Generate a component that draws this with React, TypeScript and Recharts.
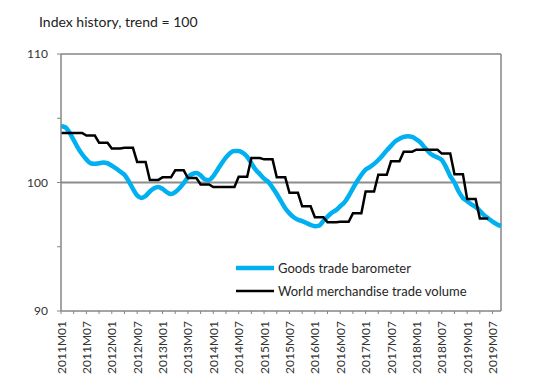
import { LineChart, Line, XAxis, YAxis, ReferenceLine, Legend } from "recharts";

const AXIS_GREY = "#868686";
const BLUE = "#00B0F0";

// monthly categories, 2011M01 .. 2019M09
const months: string[] = [];
for (let y = 2011; y <= 2019; y++) {
  for (let m = 1; m <= 12; m++) {
    if (y === 2019 && m > 9) break;
    months.push(`${y}M${String(m).padStart(2, "0")}`);
  }
}

const tickLabels = [
  "2011M01", "2011M07", "2012M01", "2012M07", "2013M01", "2013M07",
  "2014M01", "2014M07", "2015M01", "2015M07", "2016M01", "2016M07",
  "2017M01", "2017M07", "2018M01", "2018M07", "2019M01", "2019M07",
];

// Goods trade barometer, monthly
const barometer = [
  104.4, 104.3, 103.9, 103.3, 102.7, 102.2, 101.8, 101.5, 101.45, 101.5, 101.55, 101.5,
  101.3, 101.1, 100.85, 100.6, 100.1, 99.5, 99.0, 98.8, 98.95, 99.3, 99.55, 99.65,
  99.5, 99.25, 99.1, 99.25, 99.55, 99.95, 100.4, 100.65, 100.73, 100.55, 100.25, 100.2,
  100.5, 101.0, 101.5, 101.95, 102.3, 102.45, 102.45, 102.3, 102.0, 101.5, 101.0, 100.65,
  100.3, 100.05, 99.6, 99.1, 98.55, 98.0, 97.6, 97.3, 97.1, 97.0, 96.85, 96.7,
  96.6, 96.65, 97.0, 97.35, 97.65, 97.85, 98.15, 98.45, 98.95, 99.55, 100.1, 100.6,
  101.0, 101.2, 101.45, 101.75, 102.1, 102.5, 102.85, 103.2, 103.4, 103.55, 103.6, 103.55,
  103.35, 103.1, 102.7, 102.35, 102.1, 101.95, 101.75, 101.2, 100.5, 100.0, 99.3, 98.8,
  98.55, 98.3, 98.1, 97.8, 97.45, 97.2, 96.95, 96.75, 96.6,
];

// World merchandise trade volume, quarterly figures shown per month
const volume = [
  103.85, 103.85, 103.85, 103.85, 103.85, 103.85, 103.65, 103.65, 103.65, 103.1, 103.1, 103.1,
  102.65, 102.65, 102.65, 102.7, 102.7, 102.7, 101.6, 101.6, 101.6, 100.2, 100.2, 100.2,
  100.4, 100.4, 100.4, 100.95, 100.95, 100.95, 100.35, 100.35, 100.35, 99.85, 99.85, 99.85,
  99.65, 99.65, 99.65, 99.65, 99.65, 99.65, 100.45, 100.45, 100.45, 101.9, 101.9, 101.9,
  101.8, 101.8, 101.8, 100.4, 100.4, 100.4, 99.2, 99.2, 99.2, 98.15, 98.15, 98.15,
  97.3, 97.3, 97.3, 96.9, 96.9, 96.9, 96.95, 96.95, 96.95, 97.6, 97.6, 97.6,
  99.3, 99.3, 99.3, 100.6, 100.6, 100.6, 101.65, 101.65, 101.65, 102.4, 102.4, 102.4,
  102.55, 102.55, 102.55, 102.55, 102.55, 102.55, 102.25, 102.25, 102.25, 100.65, 100.65, 100.65,
  98.72, 98.72, 98.72, 97.2, 97.2, 97.2,
];

const data = months.map((month, i) => ({
  month,
  barometer: barometer[i],
  volume: i < volume.length ? volume[i] : null,
}));

const legendItems = [
  { label: "Goods trade barometer", color: BLUE, width: 4.5 },
  { label: "World merchandise trade volume", color: "#000000", width: 2.5 },
];

function MonthTick({ x, y, payload }: { x: number; y: number; payload: { value: string } }) {
  if (!tickLabels.includes(payload.value)) return null;
  return (
    <text
      transform={`translate(${x},${y + 5}) rotate(-90)`}
      textAnchor="end"
      dominantBaseline="central"
      fontSize={12}
      fill="#333333"
    >
      {payload.value}
    </text>
  );
}

function LegendBox() {
  return (
    <div style={{ display: "flex", flexDirection: "column", gap: 5 }}>
      {legendItems.map((item) => (
        <div key={item.label} style={{ display: "flex", alignItems: "center", height: 18 }}>
          <svg width={42} height={8}>
            <line x1={0} y1={4} x2={38} y2={4} stroke={item.color} strokeWidth={item.width} />
          </svg>
          <span style={{ fontSize: 13, color: "#262626" }}>{item.label}</span>
        </div>
      ))}
    </div>
  );
}

export default function App() {
  return (
    <div
      style={{
        position: "absolute",
        left: 0,
        top: 0,
        width: 537,
        height: 392,
        background: "#fff",
        fontFamily: "Lato, 'Open Sans', sans-serif",
      }}
    >
      <div style={{ position: "absolute", left: 39, top: 13, fontSize: 14, color: "#222" }}>
        Index history, trend = 100
      </div>
      <LineChart
        width={537}
        height={392}
        data={data}
        margin={{ top: 54, right: 36, bottom: 0, left: 11 }}
      >
        <XAxis
          dataKey="month"
          interval={2}
          height={81}
          tick={MonthTick}
          tickSize={3}
          axisLine={{ stroke: AXIS_GREY, strokeWidth: 1.5 }}
          tickLine={{ stroke: AXIS_GREY }}
        />
        <YAxis
          width={50}
          domain={[90, 110]}
          ticks={[90, 95, 100, 105, 110]}
          tickFormatter={(v: number) => (v % 10 === 0 ? String(v) : "")}
          tickSize={4}
          tickMargin={9}
          tick={{ fontSize: 12, fill: "#333333" }}
          axisLine={{ stroke: AXIS_GREY, strokeWidth: 1.5 }}
          tickLine={{ stroke: AXIS_GREY }}
        />
        <ReferenceLine y={110} stroke={AXIS_GREY} strokeWidth={1.5} />
        <ReferenceLine x="2019M09" stroke={AXIS_GREY} strokeWidth={1.5} />
        <ReferenceLine y={100} stroke="#8c8c8c" strokeWidth={2} />
        <Line
          dataKey="barometer"
          type="monotone"
          stroke={BLUE}
          strokeWidth={4.5}
          dot={false}
          isAnimationActive={false}
        />
        <Line
          dataKey="volume"
          type="linear"
          stroke="#000000"
          strokeWidth={2.5}
          dot={false}
          isAnimationActive={false}
        />
        <Legend
          layout="vertical"
          align="center"
          verticalAlign="middle"
          content={<LegendBox />}
          wrapperStyle={{ left: 236, top: 259, width: 260 }}
        />
      </LineChart>
    </div>
  );
}
